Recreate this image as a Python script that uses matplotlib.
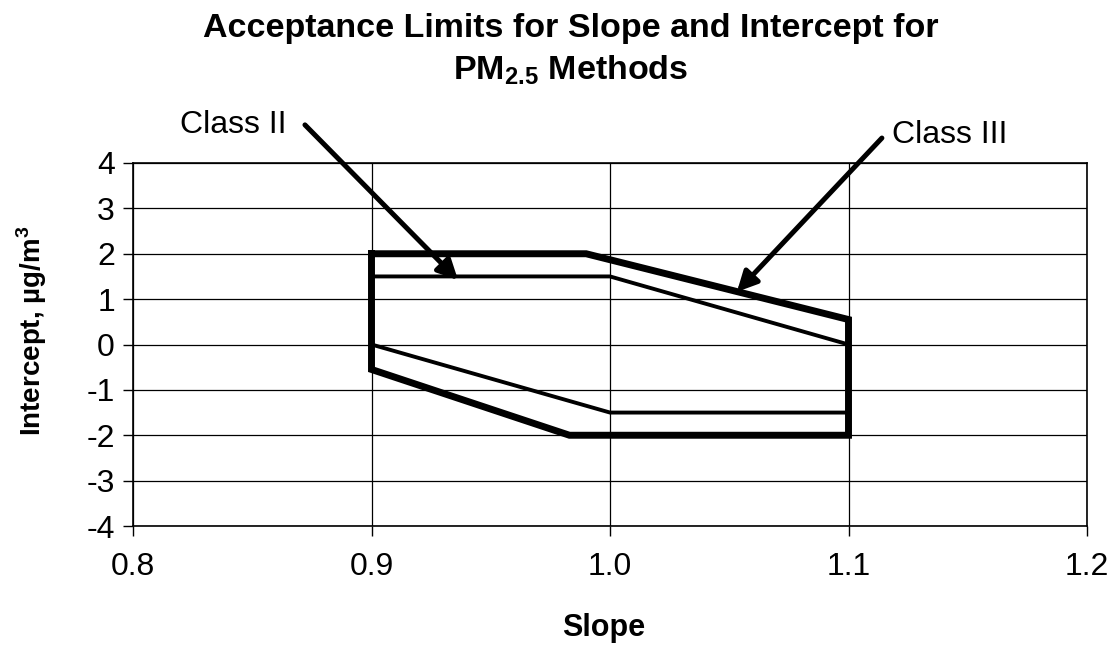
"""
Acceptance limits for slope and intercept, PM2.5 methods (Class II / Class III).
Writes: out.png
"""
import matplotlib
matplotlib.use("Agg")
import matplotlib.pyplot as plt

plt.rcParams["font.family"] = ["Liberation Sans", "DejaVu Sans"]
plt.rcParams["mathtext.fontset"] = "custom"
plt.rcParams["mathtext.rm"] = "Liberation Sans"
plt.rcParams["mathtext.bf"] = "Liberation Sans:bold"

# Class III limits (thick outline)
class3_slope = [0.9, 0.99, 1.1, 1.1, 0.983, 0.9, 0.9]
class3_icpt = [2.0, 2.0, 0.55, -2.0, -2.0, -0.55, 2.0]

# Class II limits (thin outline)
class2_slope = [0.9, 1.0, 1.1, 1.1, 1.0, 0.9, 0.9]
class2_icpt = [1.5, 1.5, 0.0, -1.5, -1.5, 0.0, 1.5]

x_ticks = [0.8, 0.9, 1.0, 1.1, 1.2]
y_ticks = [-4, -3, -2, -1, 0, 1, 2, 3, 4]

W, H = 1114, 652
fig = plt.figure(figsize=(W / 100, H / 100), dpi=100, facecolor="white")
ax = fig.add_axes([133 / W, 1 - 526 / H, (1087 - 133) / W, (526 - 163) / H])

ax.set_xlim(0.8, 1.2)
ax.set_ylim(-4, 4)
ax.set_xticks(x_ticks)
ax.set_xticklabels([f"{v:.1f}" for v in x_ticks])
ax.set_yticks(y_ticks)
ax.set_yticklabels([str(v) for v in y_ticks])
ax.grid(True, color="black", lw=0.9)
ax.set_axisbelow(True)
for sp in ax.spines.values():
    sp.set_linewidth(1.2)
ax.tick_params(direction="out", length=7, width=1.0, labelsize=23)
ax.tick_params(axis="x", pad=12)
ax.tick_params(axis="y", pad=6)

ax.plot(class2_slope, class2_icpt, color="black", lw=2.8, solid_joinstyle="miter", zorder=3)
ax.plot(class3_slope, class3_icpt, color="black", lw=5.0, solid_joinstyle="miter", zorder=4)

arrow = dict(arrowstyle="-|>,head_length=1.2,head_width=0.6", color="black",
             lw=3.6, shrinkA=0, shrinkB=0)
ax.annotate("", xy=(0.9363, 1.42), xytext=(0.8721, 4.84), arrowprops=arrow,
            annotation_clip=False, zorder=6)
ax.annotate("", xy=(1.0532, 1.16), xytext=(1.114, 4.55), arrowprops=arrow,
            annotation_clip=False, zorder=6)
ax.text(0.8197, 4.84, "Class II", fontsize=23, ha="left", va="center", clip_on=False)
ax.text(1.1182, 4.62, "Class III", fontsize=23, ha="left", va="center", clip_on=False)

fig.text(32 / W, 1 - 331 / H, "Intercept, µg/m$^\\mathbf{3}$", fontsize=20, fontweight="bold",
         rotation=90, ha="center", va="center")
fig.text(604 / W, 1 - 628 / H, "Slope", fontsize=22, fontweight="bold", ha="center", va="center")

fig.text(571 / W, 1 - 28 / H, "Acceptance Limits for Slope and Intercept for",
         fontsize=24.5, fontweight="bold", ha="center", va="center")
fig.text(571 / W, 1 - 70 / H, "PM$_{\\mathbf{2.5}}$ Methods",
         fontsize=24.5, fontweight="bold", ha="center", va="center")

fig.savefig("out.png", dpi=100, facecolor="white")
